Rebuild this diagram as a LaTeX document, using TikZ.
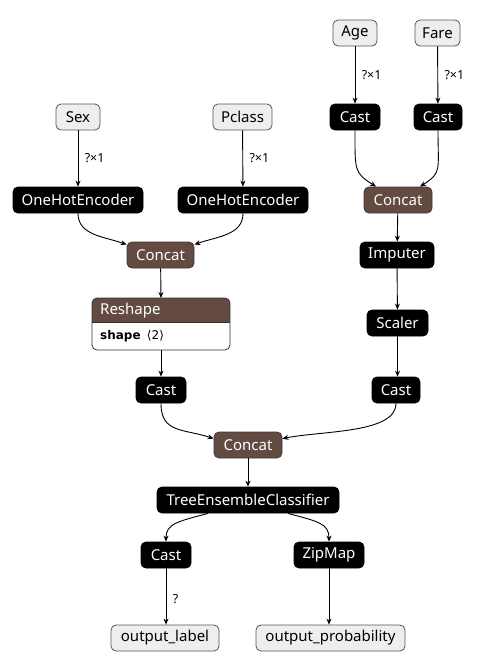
\documentclass[tikz,border=0pt]{standalone}
\usepackage{fontspec}
\setmainfont{Noto Sans}
\newfontfamily\boldfam{DejaVu Sans}
\usetikzlibrary{arrows.meta,positioning}
\definecolor{opbrown}{HTML}{634B42}
\definecolor{iofill}{HTML}{EEEEEE}
\definecolor{ioline}{HTML}{555555}
\begin{document}
\begin{tikzpicture}[x=1pt,y=-1pt,
  base/.style={rounded corners=5pt,minimum height=26pt,inner sep=0pt,font=\fontsize{15}{17}\selectfont,line width=0.8pt},
  op/.style={base,fill=black,draw=black,text=white},
  grp/.style={base,fill=opbrown,draw=opbrown!70!black,text=white},
  io/.style={base,fill=iofill,draw=ioline,text=black},
  edge/.style={draw=black,line width=0.9pt,-{Stealth[length=6pt,width=5pt]}},
  lbl/.style={font=\fontsize{12.5}{14}\selectfont,anchor=west}
]
\useasboundingbox (0,0) rectangle (477,662);
% inputs
\node[io,minimum width=44pt] (age) at (355,33) {Age};
\node[io,minimum width=45pt] (fare) at (437.5,33) {Fare};
\node[io,minimum width=44pt] (sex) at (78,117) {Sex};
\node[io,minimum width=59pt] (pclass) at (242.5,117) {Pclass};
% ops
\node[op,minimum width=50pt] (casta) at (355,117) {Cast};
\node[op,minimum width=48pt] (castf) at (438,117) {Cast};
\node[op,minimum width=130pt] (ohel) at (78,200) {OneHotEncoder};
\node[op,minimum width=130pt] (oher) at (243,200) {OneHotEncoder};
\node[grp,minimum width=68pt] (concatr) at (398,200) {Concat};
\node[grp,minimum width=67pt] (concatl) at (160.5,255) {Concat};
\node[op,minimum width=74pt] (imputer) at (397,255) {Imputer};
\node[op,minimum width=61pt] (scaler) at (397.5,323) {Scaler};
% Reshape block
\begin{scope}
\clip[rounded corners=5pt] (92,298) rectangle (230,350);
\fill[white] (92,298) rectangle (230,350);
\fill[opbrown] (92,298) rectangle (230,322);
\end{scope}
\node[anchor=north west,minimum height=24pt,inner sep=0pt,font=\fontsize{15}{17}\selectfont,text=white] (reshape) at (100,298) {Reshape};
\node[anchor=north west,minimum height=28pt,inner sep=0pt,font=\fontsize{12}{14}\selectfont] (reshapeattr) at (100,322) {{\boldfam\bfseries shape}\ \ {\boldfam ⟨2⟩}};
\draw[line width=0.8pt,draw=black!80,rounded corners=5pt] (92,298) rectangle (230,350);
\draw[line width=0.6pt,draw=black!80] (92,322) -- (230,322);
\coordinate (reshapetop) at (161,298);
\coordinate (reshapebot) at (161,350);
\node[op,minimum width=50pt] (castl) at (161,390) {Cast};
\node[op,minimum width=48pt] (castr) at (396,390) {Cast};
\node[grp,minimum width=68pt] (concatb) at (248,445) {Concat};
\node[op,minimum width=182pt] (tec) at (248,500) {TreeEnsembleClassifier};
\node[op,minimum width=50pt] (castb) at (166,555) {Cast};
\node[op,minimum width=70pt] (zipmap) at (329,555) {ZipMap};
\node[io,minimum width=108pt] (outl) at (165,638) {output\_label};
\node[io,minimum width=149pt] (outp) at (330.5,638) {output\_probability};
% coordinates for curved arrival points
\coordinate (cr1) at (376,187);
\coordinate (cr2) at (420,187);
% edges
\draw[edge] (age) -- node[lbl,pos=0.5,xshift=3pt] {?×1} (casta);
\draw[edge] (fare) -- node[lbl,pos=0.5,xshift=3pt] {?×1} (castf);
\draw[edge] (sex) -- node[lbl,pos=0.5,xshift=3pt] {?×1} (ohel);
\draw[edge] (pclass) -- node[lbl,pos=0.5,xshift=3pt] {?×1} (oher);
\draw[edge] (casta.south) .. controls +(0,40) and +(-22,-14) .. (concatr.north west -| cr1);
\draw[edge] (castf.south) .. controls +(0,40) and +(22,-14) .. (concatr.north west -| cr2);
\draw[edge] (concatr) -- (imputer);
\draw[edge] (imputer) -- (scaler);
\draw[edge] (scaler.south) -- (castr.north -| scaler.south);
\draw[edge] (ohel.south) .. controls +(0,22) and +(-22,-8) .. ([yshift=-3pt]concatl.north west);
\draw[edge] (oher.south) .. controls +(0,22) and +(22,-8) .. ([yshift=-3pt]concatl.north east);
\draw[edge] (concatl) -- (reshapetop);
\draw[edge] (reshapebot) -- (castl);
\draw[edge] (castl.south) .. controls +(0,30) and +(-30,-10) .. ([yshift=-7pt]concatb.north west);
\draw[edge] (castr.south) .. controls +(0,30) and +(40,-8) .. ([yshift=-7pt]concatb.north east);
\draw[edge] (concatb) -- (tec);
\draw[edge] ([xshift=-40pt]tec.south) .. controls +(-30,8) and +(0,-18) .. (castb.north);
\draw[edge] ([xshift=40pt]tec.south) .. controls +(30,8) and +(0,-18) .. (zipmap.north);
\draw[edge] (castb.south) -- node[lbl,pos=0.55,xshift=3pt] {?} (castb.south |- outl.north);
\draw[edge] (zipmap.south) -- (zipmap.south |- outp.north);
\end{tikzpicture}
\end{document}
